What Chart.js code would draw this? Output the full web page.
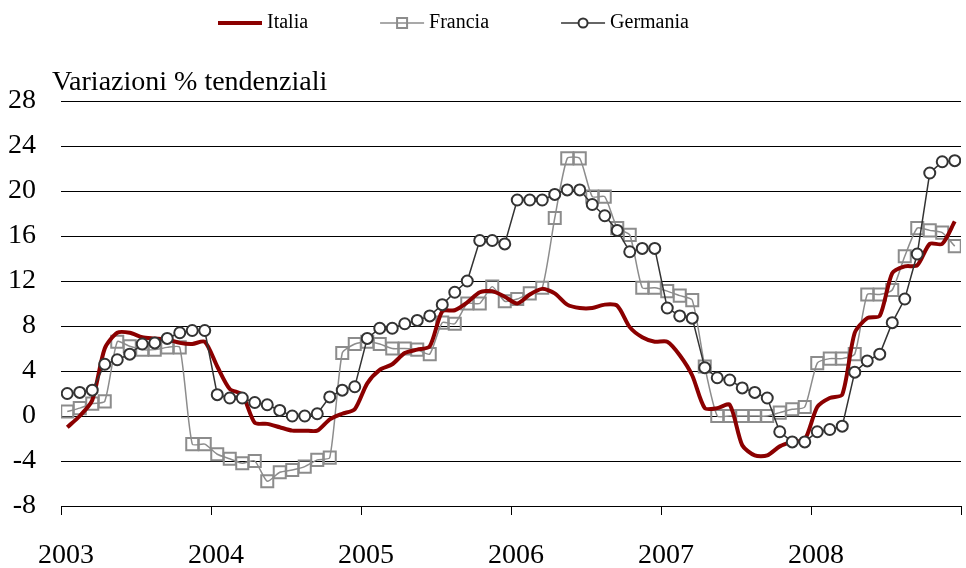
<!DOCTYPE html>
<html>
<head>
<meta charset="utf-8">
<script src="https://cdn.jsdelivr.net/npm/chart.js@4.4.1/dist/chart.umd.min.js"></script>
<style>
    html, body { margin: 0; padding: 0; background: #ffffff; }
    #wrap { width: 966px; height: 568px; }
</style>
</head>
<body>
<div id="wrap"><canvas id="priceChart"></canvas></div>
<script>
// Monthly year-on-year changes, Jan 2003 - Dec 2008.
var years = ["2003", "2004", "2005", "2006", "2007", "2008"];
var monthsPerYear = 12;
var yTicks = [-8, -4, 0, 4, 8, 12, 16, 20, 24, 28];
var chartTitle = "Variazioni % tendenziali";
var seriesNames = ["Italia", "Francia", "Germania"];

var italia = [
    -1.0, 0.0, 1.4, 6.0, 7.4, 7.4, 7.0, 6.9, 6.8, 6.5, 6.4, 6.6,
    4.4, 2.4, 1.9, -0.6, -0.7, -1.0, -1.3, -1.3, -1.3, -0.3, 0.2, 0.6,
    2.9, 4.1, 4.6, 5.6, 5.9, 6.2, 9.3, 9.4, 10.1, 11.0, 11.1, 10.6,
    10.0, 10.8, 11.3, 10.9, 9.9, 9.6, 9.6, 9.9, 9.8, 7.9, 7.0, 6.6,
    6.6, 5.4, 3.6, 0.7, 0.7, 1.0, -2.6, -3.5, -3.5, -2.7, -2.3, -2.1,
    0.8, 1.6, 1.9, 7.4, 8.7, 8.9, 12.7, 13.3, 13.4, 15.3, 15.3, 17.3
];

var francia = [
    0.4, 0.7, 1.1, 1.3, 6.6, 6.2, 5.9, 5.9, 6.1, 6.1, -2.5, -2.5,
    -3.4, -3.8, -4.2, -4.0, -5.8, -5.0, -4.8, -4.5, -3.9, -3.7, 5.6, 6.4,
    6.6, 6.4, 6.0, 6.0, 5.9, 5.5, 8.3, 8.2, 10.0, 10.0, 11.5, 10.2,
    10.4, 10.9, 11.4, 17.6, 22.9, 22.9, 19.5, 19.5, 16.7, 16.1, 11.4, 11.4,
    11.1, 10.7, 10.3, 4.4, 0.0, 0.0, 0.0, 0.0, 0.0, 0.3, 0.6, 0.8,
    4.7, 5.1, 5.1, 5.5, 10.8, 10.8, 11.2, 14.2, 16.7, 16.5, 16.3, 15.1
];

var germania = [
    2.0, 2.1, 2.3, 4.6, 5.0, 5.5, 6.4, 6.5, 6.9, 7.4, 7.6, 7.6,
    1.9, 1.6, 1.6, 1.2, 1.0, 0.5, 0.0, 0.0, 0.2, 1.7, 2.3, 2.6,
    6.9, 7.8, 7.8, 8.2, 8.5, 8.9, 9.9, 11.0, 12.0, 15.6, 15.6, 15.3,
    19.2, 19.2, 19.2, 19.7, 20.1, 20.1, 18.8, 17.8, 16.5, 14.6, 14.9, 14.9,
    9.6, 8.9, 8.7, 4.3, 3.4, 3.2, 2.5, 2.1, 1.6, -1.4, -2.3, -2.3,
    -1.4, -1.2, -0.9, 3.9, 4.9, 5.5, 8.3, 10.4, 14.4, 21.6, 22.6, 22.7
];

var serifFont = "'Liberation Serif', 'Times New Roman', serif";

// Each month sits in the middle of its slot on a linear month axis.
function toPoints(values) {
    var points = [];
    for (var i = 0; i < values.length; i++) {
        points.push({ x: i + 0.5, y: values[i] });
    }
    return points;
}

function createDatasets() {
    return [
        {
            label: seriesNames[0],
            data: toPoints(italia),
            borderColor: "#8b0000",
            borderWidth: 4,
            pointRadius: 0,
            tension: 0.25,
            order: 2
        },
        {
            label: seriesNames[1],
            data: toPoints(francia),
            borderColor: "#8c8c8c",
            borderWidth: 1.5,
            pointStyle: "rect",
            pointRadius: 8.5,
            pointBorderWidth: 2,
            pointBorderColor: "#8c8c8c",
            pointBackgroundColor: "rgba(255,255,255,0)",
            tension: 0.2,
            order: 3
        },
        {
            label: seriesNames[2],
            data: toPoints(germania),
            borderColor: "#333333",
            borderWidth: 1.5,
            pointStyle: "circle",
            pointRadius: 5.5,
            pointBorderWidth: 2,
            pointBorderColor: "#333333",
            pointBackgroundColor: "#ffffff",
            tension: 0,
            order: 1
        }
    ];
}

// Title above the axis and a one-row legend with line + marker symbols.
var headerPlugin = {
    id: "header",
    afterDraw: function (chart) {
        var ctx = chart.ctx;
        ctx.save();
        ctx.fillStyle = "#000000";
        ctx.textBaseline = "alphabetic";
        ctx.textAlign = "left";
        ctx.font = "28px " + serifFont;
        ctx.fillText(chartTitle, 52, 90);

        ctx.font = "20px " + serifFont;
        ctx.textBaseline = "middle";
        var x = 218;
        var y = 23;
        var symbolWidth = 44;
        var datasets = chart.data.datasets;
        for (var i = 0; i < datasets.length; i++) {
            var ds = datasets[i];
            ctx.strokeStyle = ds.borderColor;
            ctx.lineWidth = ds.borderWidth;
            ctx.beginPath();
            ctx.moveTo(x, y);
            ctx.lineTo(x + symbolWidth, y);
            ctx.stroke();

            var cx = x + symbolWidth / 2;
            if (ds.pointStyle === "rect") {
                ctx.lineWidth = 2;
                ctx.strokeStyle = ds.pointBorderColor;
                ctx.strokeRect(cx - 5, y - 5, 10, 10);
            } else if (ds.pointStyle === "circle") {
                ctx.lineWidth = 2;
                ctx.strokeStyle = ds.pointBorderColor;
                ctx.fillStyle = "#ffffff";
                ctx.beginPath();
                ctx.arc(cx, y, 4.5, 0, Math.PI * 2);
                ctx.fill();
                ctx.stroke();
            }

            ctx.fillStyle = "#000000";
            ctx.fillText(ds.label, x + symbolWidth + 5, y);
            x = x + symbolWidth + 5 + ctx.measureText(ds.label).width + 72;
        }
        ctx.restore();
    }
};

function createChartOptions() {
    return {
        responsive: true,
        maintainAspectRatio: false,
        animation: false,
        layout: {
            autoPadding: false,
            padding: { top: 101, right: 5, bottom: 0, left: 0 }
        },
        plugins: {
            legend: { display: false },
            tooltip: { enabled: false }
        },
        scales: {
            x: {
                type: "linear",
                min: 0,
                max: years.length * monthsPerYear,
                afterFit: function (scale) {
                    scale.height = 62;
                    scale.paddingLeft = 0;
                    scale.paddingRight = 0;
                },
                afterBuildTicks: function (scale) {
                    var ticks = [];
                    for (var k = 0; k <= years.length; k++) {
                        ticks.push({ value: k * monthsPerYear });
                    }
                    scale.ticks = ticks;
                },
                ticks: {
                    autoSkip: false,
                    maxRotation: 0,
                    padding: 24,
                    labelOffset: 5,
                    color: "#000000",
                    font: { family: serifFont, size: 28 },
                    callback: function (value) {
                        return years[value / monthsPerYear] || "";
                    }
                },
                grid: {
                    drawOnChartArea: false,
                    drawTicks: true,
                    tickLength: 9,
                    color: "#000000",
                    lineWidth: 1
                },
                border: { display: true, color: "#000000", width: 1 }
            },
            y: {
                min: yTicks[0],
                max: yTicks[yTicks.length - 1],
                afterFit: function (scale) {
                    scale.width = 61;
                    scale.paddingTop = 0;
                    scale.paddingBottom = 0;
                },
                afterBuildTicks: function (scale) {
                    scale.ticks = yTicks.map(function (v) { return { value: v }; });
                },
                ticks: {
                    padding: 25,
                    color: "#000000",
                    font: { family: serifFont, size: 28 }
                },
                grid: {
                    drawTicks: false,
                    color: "#000000",
                    lineWidth: 1
                },
                border: { display: false }
            }
        }
    };
}

new Chart(document.getElementById("priceChart"), {
    type: "line",
    data: { datasets: createDatasets() },
    options: createChartOptions(),
    plugins: [headerPlugin]
});
</script>
</body>
</html>
